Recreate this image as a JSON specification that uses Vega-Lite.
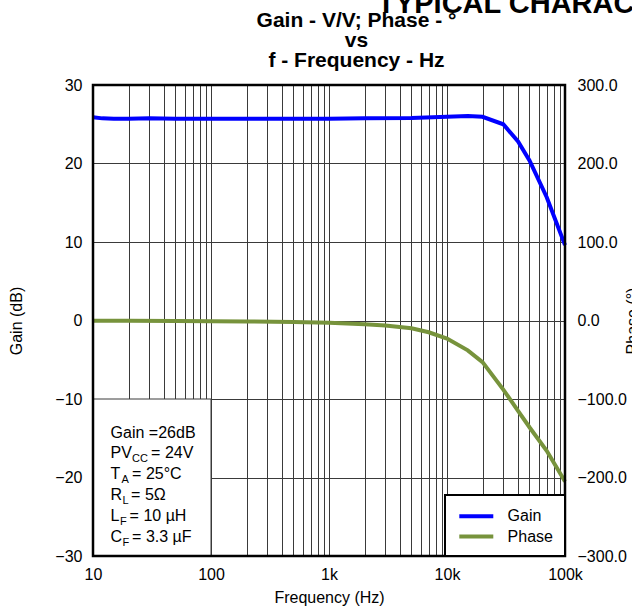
{
  "$schema": "https://vega.github.io/schema/vega-lite/v6.json",
  "width": 472,
  "height": 471,
  "autosize": {"type": "none"},
  "padding": {"left": 93, "top": 85, "right": 67, "bottom": 55},
  "background": "white",
  "config": {
    "font": "Liberation Sans",
    "view": {"stroke": null},
    "axis": {
      "labelFont": "Liberation Sans",
      "titleFont": "Liberation Sans",
      "labelColor": "black",
      "titleColor": "black",
      "labelFontSize": 16,
      "titleFontSize": 16,
      "titleFontWeight": "normal",
      "ticks": false,
      "tickSize": 0,
      "domain": false,
      "gridColor": "#3a3a3a",
      "gridOpacity": 1,
      "gridWidth": 1
    },
    "legend": {"strokeWidth": 2}
  },
  "datasets": {
    "curves": [
      {"series": "Gain", "freq": 10, "value": 25.9},
      {"series": "Gain", "freq": 12, "value": 25.75},
      {"series": "Gain", "freq": 15, "value": 25.7},
      {"series": "Gain", "freq": 20, "value": 25.7},
      {"series": "Gain", "freq": 30, "value": 25.75},
      {"series": "Gain", "freq": 50, "value": 25.7},
      {"series": "Gain", "freq": 100, "value": 25.7},
      {"series": "Gain", "freq": 200, "value": 25.7},
      {"series": "Gain", "freq": 500, "value": 25.7},
      {"series": "Gain", "freq": 1000, "value": 25.7},
      {"series": "Gain", "freq": 2000, "value": 25.75},
      {"series": "Gain", "freq": 5000, "value": 25.8},
      {"series": "Gain", "freq": 10000, "value": 25.95},
      {"series": "Gain", "freq": 15000, "value": 26.05},
      {"series": "Gain", "freq": 20000, "value": 25.95},
      {"series": "Gain", "freq": 30000, "value": 25.0},
      {"series": "Gain", "freq": 40000, "value": 22.8},
      {"series": "Gain", "freq": 50000, "value": 20.4},
      {"series": "Gain", "freq": 70000, "value": 15.7},
      {"series": "Gain", "freq": 100000, "value": 9.6},
      {"series": "Phase", "freq": 10, "value": -0.3},
      {"series": "Phase", "freq": 20, "value": -0.4},
      {"series": "Phase", "freq": 50, "value": -0.6},
      {"series": "Phase", "freq": 100, "value": -0.8},
      {"series": "Phase", "freq": 200, "value": -1.2},
      {"series": "Phase", "freq": 500, "value": -1.8},
      {"series": "Phase", "freq": 1000, "value": -2.8},
      {"series": "Phase", "freq": 2000, "value": -4.8},
      {"series": "Phase", "freq": 3000, "value": -6.5},
      {"series": "Phase", "freq": 5000, "value": -10},
      {"series": "Phase", "freq": 7000, "value": -15},
      {"series": "Phase", "freq": 10000, "value": -23},
      {"series": "Phase", "freq": 15000, "value": -38},
      {"series": "Phase", "freq": 20000, "value": -53},
      {"series": "Phase", "freq": 30000, "value": -88},
      {"series": "Phase", "freq": 40000, "value": -115},
      {"series": "Phase", "freq": 50000, "value": -136},
      {"series": "Phase", "freq": 70000, "value": -166},
      {"series": "Phase", "freq": 100000, "value": -205}
    ],
    "notes": [
      {"base": "Gain =26dB", "sub": "", "rest": "", "level": -15.0},
      {"base": "PV", "sub": "CC", "rest": "= 24V", "level": -17.55},
      {"base": "T", "sub": "A", "rest": "= 25°C", "level": -20.2},
      {"base": "R", "sub": "L", "rest": "= 5Ω", "level": -22.87},
      {"base": "L", "sub": "F", "rest": "= 10 µH", "level": -25.54},
      {"base": "C", "sub": "F", "rest": "= 3.3 µF", "level": -28.18}
    ]
  },
  "layer": [
    {
      "data": {"name": "curves"},
      "transform": [{"filter": "datum.series === 'Phase'"}],
      "mark": {"type": "line", "strokeWidth": 4},
      "encoding": {
        "x": {
          "field": "freq",
          "type": "quantitative",
          "scale": {"type": "log", "domain": [10, 100000], "nice": false},
          "axis": {
            "orient": "top",
            "labels": false,
            "grid": false,
            "title": ["Gain - V/V; Phase - °", "vs", "f - Frequency - Hz"],
            "titleFontSize": 21,
            "titleFontWeight": "bold",
            "titleLineHeight": 19.7,
            "titleX": 263,
            "titleY": -58.3,
            "titleAlign": "center",
            "titleBaseline": "alphabetic",
            "titleAngle": 0
          }
        },
        "y": {
          "field": "value",
          "type": "quantitative",
          "scale": {"domain": [-300, 300], "nice": false},
          "axis": {
            "orient": "right",
            "values": [-300, -200, -100, 0, 100, 200, 300],
            "format": ".1f",
            "grid": false,
            "labelPadding": 12,
            "title": "Phase (°)",
            "titleAngle": 270,
            "titleX": 72.5,
            "titleY": 235.5,
            "titleAlign": "center",
            "titleBaseline": "alphabetic"
          }
        },
        "color": {
          "field": "series",
          "type": "nominal",
          "scale": {"domain": ["Gain", "Phase"], "range": ["#0000ff", "#77933c"]},
          "legend": {
            "title": null,
            "orient": "bottom-right",
            "offset": 0,
            "symbolType": "M-2.125,0H2.125",
            "symbolSize": 256,
            "symbolStrokeWidth": 4,
            "symbolOffset": 10,
            "labelFontSize": 16,
            "labelFont": "Liberation Sans",
            "labelColor": "black",
            "labelOffset": 21.3,
            "padding": 11.3,
            "rowPadding": 2.2,
            "fillColor": "white",
            "strokeColor": "black"
          }
        }
      }
    },
    {
      "data": {"values": [{"region": "test conditions"}]},
      "mark": {"type": "rect", "fill": "white", "stroke": "#3a3a3a", "strokeWidth": 1},
      "encoding": {
        "x": {"datum": 10, "type": "quantitative", "axis": null},
        "x2": {"datum": 100},
        "y": {"datum": -30, "type": "quantitative", "scale": {"domain": [-30, 30], "nice": false}, "axis": null},
        "y2": {"datum": -10}
      }
    },
    {
      "data": {"name": "notes"},
      "mark": {"type": "text", "align": "left", "baseline": "alphabetic", "fontSize": 16, "color": "black", "font": "Liberation Sans"},
      "encoding": {
        "x": {"datum": 14.1, "type": "quantitative", "axis": null},
        "y": {"field": "level", "type": "quantitative", "scale": {"domain": [-30, 30], "nice": false}, "axis": null},
        "text": {"field": "base"}
      }
    },
    {
      "data": {"name": "notes"},
      "transform": [{"filter": "datum.sub !== ''"}],
      "mark": {
        "type": "text", "align": "left", "baseline": "alphabetic", "fontSize": 11, "color": "black", "font": "Liberation Sans",
        "dy": 4,
        "dx": {"expr": "datum.base === 'PV' ? 21.5 : datum.base === 'T' ? 11 : datum.base === 'R' ? 12 : datum.base === 'L' ? 9.5 : 12"}
      },
      "encoding": {
        "x": {"datum": 14.1, "type": "quantitative", "axis": null},
        "y": {"field": "level", "type": "quantitative", "scale": {"domain": [-30, 30], "nice": false}, "axis": null},
        "text": {"field": "sub"}
      }
    },
    {
      "data": {"name": "notes"},
      "transform": [{"filter": "datum.rest !== ''"}],
      "mark": {
        "type": "text", "align": "left", "baseline": "alphabetic", "fontSize": 16, "color": "black", "font": "Liberation Sans",
        "dx": {"expr": "datum.base === 'PV' ? 40.5 : datum.base === 'T' ? 21.5 : datum.base === 'R' ? 20.5 : datum.base === 'L' ? 19 : 21.5"}
      },
      "encoding": {
        "x": {"datum": 14.1, "type": "quantitative", "axis": null},
        "y": {"field": "level", "type": "quantitative", "scale": {"domain": [-30, 30], "nice": false}, "axis": null},
        "text": {"field": "rest"}
      }
    },
    {
      "data": {"name": "curves"},
      "transform": [{"filter": "datum.series === 'Gain'"}],
      "mark": {"type": "line", "strokeWidth": 4},
      "encoding": {
        "x": {
          "field": "freq",
          "type": "quantitative",
          "scale": {"type": "log", "domain": [10, 100000], "nice": false},
          "axis": {
            "orient": "bottom",
            "values": [10, 20, 30, 40, 50, 60, 70, 80, 90, 100, 200, 300, 400, 500, 600, 700, 800, 900, 1000, 2000, 3000, 4000, 5000, 6000, 7000, 8000, 9000, 10000, 20000, 30000, 40000, 50000, 60000, 70000, 80000, 90000, 100000],
            "labelExpr": "datum.value == 10 ? '10' : datum.value == 100 ? '100' : datum.value == 1000 ? '1k' : datum.value == 10000 ? '10k' : datum.value == 100000 ? '100k' : ''",
            "labelFlush": false,
            "labelOverlap": false,
            "labelPadding": 10,
            "grid": true,
            "title": "Frequency (Hz)",
            "titleX": 236,
            "titleY": 46.5,
            "titleAlign": "center",
            "titleBaseline": "alphabetic"
          }
        },
        "y": {
          "field": "value",
          "type": "quantitative",
          "scale": {"domain": [-30, 30], "nice": false},
          "axis": {
            "orient": "left",
            "values": [-30, -20, -10, 0, 10, 20, 30],
            "grid": true,
            "labelPadding": 11,
            "title": "Gain (dB)",
            "titleAngle": 270,
            "titleX": -71.3,
            "titleY": 235.5,
            "titleAlign": "center",
            "titleBaseline": "alphabetic"
          }
        },
        "color": {
          "field": "series",
          "type": "nominal",
          "scale": {"domain": ["Gain", "Phase"], "range": ["#0000ff", "#77933c"]},
          "legend": {
            "title": null,
            "orient": "bottom-right",
            "offset": 0,
            "symbolType": "M-2.125,0H2.125",
            "symbolSize": 256,
            "symbolStrokeWidth": 4,
            "symbolOffset": 10,
            "labelFontSize": 16,
            "labelFont": "Liberation Sans",
            "labelColor": "black",
            "labelOffset": 21.3,
            "padding": 11.3,
            "rowPadding": 2.2,
            "fillColor": "white",
            "strokeColor": "black"
          }
        }
      }
    },
    {
      "data": {"values": [{"region": "plot frame"}]},
      "mark": {"type": "rect", "filled": false, "color": "black", "strokeWidth": 2.5},
      "encoding": {
        "x": {
          "datum": 10,
          "type": "quantitative",
          "axis": {
            "orient": "top",
            "labels": false,
            "grid": false,
            "title": "TYPICAL CHARACTERISTICS",
            "titleFontSize": 29,
            "titleFontWeight": "bold",
            "titleX": 283.7,
            "titleY": -73,
            "titleAlign": "left",
            "titleBaseline": "alphabetic",
            "titleAngle": 0
          }
        },
        "x2": {"datum": 100000},
        "y": {"datum": -30, "type": "quantitative", "scale": {"domain": [-30, 30], "nice": false}, "axis": null},
        "y2": {"datum": 30}
      }
    }
  ],
  "resolve": {"scale": {"y": "independent"}, "axis": {"x": "independent"}}
}
